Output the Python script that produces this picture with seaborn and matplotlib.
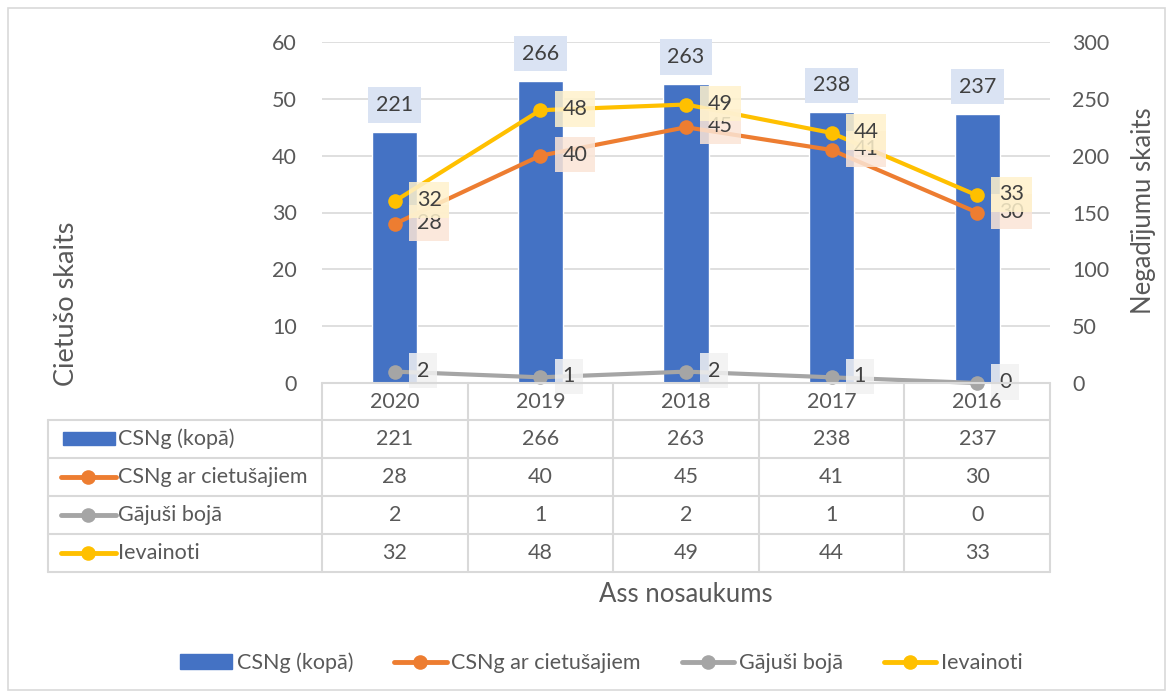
import matplotlib
matplotlib.use("Agg")
import matplotlib.pyplot as plt
import matplotlib.transforms as mtransforms
from matplotlib.lines import Line2D
from matplotlib.patches import Patch, Rectangle
import numpy as np
import seaborn as sns

years = ["2020", "2019", "2018", "2017", "2016"]
csng_total = [221, 266, 263, 238, 237]
csng_injured = [28, 40, 45, 41, 30]
killed = [2, 1, 2, 1, 0]
wounded = [32, 48, 49, 44, 33]

series_names = ["CSNg (kopā)", "CSNg ar cietušajiem", "Gājuši bojā", "Ievainoti"]
blue, orange, grey, yellow = "#4472c4", "#ed7d31", "#a5a5a5", "#ffc000"
label_bg = {"bar": "#dae3f3", "orange": "#fbe5d6", "grey": "#f2f2f2", "yellow": "#fff2cc"}
txt = "#404040"
tick_c = "#595959"
grid_c = "#d9d9d9"
fs = 15.5

sns.set_style("white")
plt.rcParams["font.family"] = ["Lato", "DejaVu Sans"]

W, H = 1173, 698
fig = plt.figure(figsize=(W / 100, H / 100), dpi=100)


def fx(x):
    return x / W


def fy(y):
    return 1 - y / H


ax = fig.add_axes([fx(322), fy(383), (1050 - 322) / W, (383 - 42) / H])
ax2 = ax.twinx()

# bars on the secondary (right) axis
sns.barplot(x=years, y=csng_total, ax=ax2, color=blue, saturation=1, width=0.31)
ax.set_zorder(ax2.get_zorder() + 1)
ax.patch.set_visible(False)

pos = np.arange(len(years))
line_series = [(csng_injured, orange, "orange"), (killed, grey, "grey"), (wounded, yellow, "yellow")]
for k, (vals, col, key) in enumerate(line_series):
    sns.lineplot(x=pos, y=vals, ax=ax, color=col, linewidth=3, marker="o",
                 markersize=10.5, markeredgewidth=0, clip_on=False, zorder=3 + k)
    for i, v in enumerate(vals):
        ax.annotate(str(v), (pos[i], v), xytext=(22, 1), textcoords="offset pixels",
                    ha="left", va="center", fontsize=fs, color=txt, zorder=10 + k,
                    annotation_clip=False,
                    bbox=dict(boxstyle="square,pad=0.36", fc=label_bg[key], ec="none", alpha=0.85))

for i, v in enumerate(csng_total):
    ax2.annotate(str(v), (i, v), xytext=(0, 27), textcoords="offset pixels",
                 ha="center", va="center", fontsize=fs, color=txt,
                 bbox=dict(boxstyle="square,pad=0.36", fc=label_bg["bar"], ec="none"))

ax.set_xlim(-0.5, 4.5)
ax.set_ylim(0, 60)
ax2.set_ylim(0, 300)
ax.set_yticks(range(0, 61, 10))
ax2.set_yticks(range(0, 301, 50))
ax2.yaxis.grid(True, color=grid_c, linewidth=1.2)
ax2.set_axisbelow(True)
ax.tick_params(axis="y", length=0, pad=18, labelsize=fs, labelcolor=tick_c)
ax2.tick_params(axis="y", length=0, pad=16, labelsize=fs, labelcolor=tick_c)
ax.tick_params(axis="x", bottom=False, labelbottom=False)
ax2.tick_params(axis="x", bottom=False, labelbottom=False)
ax2.set_xlabel("")
ax2.set_ylabel("")
for a in (ax, ax2):
    for s in a.spines.values():
        s.set_visible(False)

fig.text(fx(66), fy(304), "Cietušo skaits", rotation=90, ha="center", va="center",
         fontsize=19.5, color=tick_c)
fig.text(fx(1143), fy(211), "Negadījumu skaits", rotation=90, ha="center", va="center",
         fontsize=18.5, color=tick_c)

# data table under the plot
trans = mtransforms.blended_transform_factory(ax.transData, fig.transFigure)
row_edges = [383, 420, 458, 496, 534, 572]
for b in np.arange(-0.5, len(years), 1.0):
    fig.add_artist(Line2D([b, b], [fy(383), fy(572)], transform=trans, color=grid_c, lw=1.5))
fig.add_artist(Line2D([fx(48), fx(48)], [fy(420), fy(572)], color=grid_c, lw=1.5))
fig.add_artist(Line2D([fx(322), fx(1050)], [fy(383), fy(383)], color=grid_c, lw=1.5))
for y in row_edges[1:]:
    fig.add_artist(Line2D([fx(48), fx(1050)], [fy(y), fy(y)], color=grid_c, lw=1.5))

for i, yr in enumerate(years):
    fig.text(i, fy(402), yr, transform=trans, ha="center", va="center", fontsize=fs, color=tick_c)

table_rows = [csng_total, csng_injured, killed, wounded]
row_cols = [blue, orange, grey, yellow]
for r, (name, vals, col) in enumerate(zip(series_names, table_rows, row_cols)):
    yc = (row_edges[r + 1] + row_edges[r + 2]) / 2
    if r == 0:
        fig.add_artist(Rectangle((fx(63), fy(yc + 6)), 52 / W, 13 / H, color=col))
    else:
        fig.add_artist(Line2D([fx(61), fx(116)], [fy(yc), fy(yc)], color=col, lw=3.5))
        fig.add_artist(Line2D([fx(88)], [fy(yc)], color=col, marker="o", markersize=10.5,
                              markeredgewidth=0))
    fig.text(fx(118), fy(yc), name, ha="left", va="center", fontsize=fs, color=tick_c)
    for i, v in enumerate(vals):
        fig.text(i, fy(yc), str(v), transform=trans, ha="center", va="center",
                 fontsize=fs, color=tick_c)

fig.text(fx(686), fy(595), "Ass nosaukums", ha="center", va="center", fontsize=18.5, color=tick_c)

handles = [Patch(color=blue)] + [
    Line2D([0], [0], color=c, lw=3.5, marker="o", markersize=10.5, markeredgewidth=0)
    for c in (orange, grey, yellow)]
leg = fig.legend(handles, series_names, loc="center", bbox_to_anchor=(fx(601), fy(663)),
                 ncol=4, frameon=False, fontsize=fs, handlelength=2.45, handleheight=0.7,
                 handletextpad=0.2, columnspacing=1.9)
for t in leg.get_texts():
    t.set_color(tick_c)

fig.add_artist(Rectangle((fx(8), fy(690)), (1165 - 8) / W, (690 - 8) / H, fill=False,
                         ec=grid_c, lw=1.2))

fig.savefig("out.png", dpi=100, facecolor="white")
